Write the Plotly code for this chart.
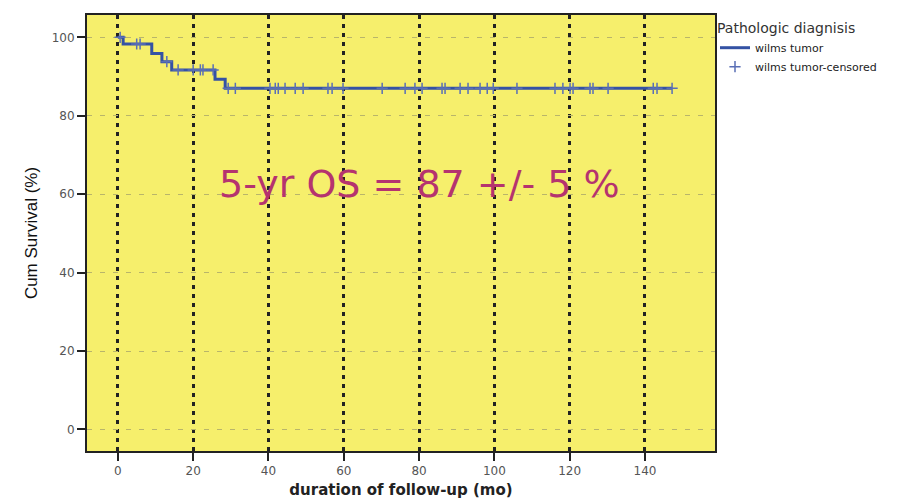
import numpy as np
import plotly.graph_objects as go

# Kaplan-Meier step data (months, cumulative survival %)
step_times = [0, 1.4, 9.0, 11.7, 14.3, 25.8, 28.5, 147.2]
step_surv = [100, 98.3, 95.9, 93.8, 91.7, 89.3, 87.0, 87.0]

# censored observation times (months)
censor_times = [0.6, 5.0, 5.9, 13.0, 16.0, 20.0, 21.9, 22.6, 25.3, 29.3, 31.2,
                 40.4, 41.8, 42.6, 44.4, 47.1, 49.2, 55.8, 56.9, 59.8, 70.2,
                 76.3, 78.9, 80.8, 86.1, 86.9, 90.9, 93.0, 96.2, 98.1, 99.7,
                 106.0, 116.1, 118.2, 120.1, 120.9, 125.4, 126.2, 130.2,
                 142.2, 143.2, 147.2]

x_ticks = [0, 20, 40, 60, 80, 100, 120, 140]
y_ticks = [0, 20, 40, 60, 80, 100]

legend_title = "Pathologic diagnisis"
series_names = ["wilms tumor", "wilms tumor-censored"]
annotation_text = "5-yr OS = 87 +/- 5 %"

# survival value at each censor time from the step function
idx = np.searchsorted(np.array(step_times), np.array(censor_times), side="right") - 1
censor_surv = [step_surv[i] for i in idx]

line_color = "#3452a4"
bg = "#f6ef6c"

fig = go.Figure()
fig.add_trace(go.Scatter(
    x=step_times, y=step_surv, mode="lines", line_shape="hv",
    line=dict(color=line_color, width=3), name=series_names[0]))
fig.add_trace(go.Scatter(
    x=censor_times, y=censor_surv, mode="markers",
    marker=dict(symbol="cross-thin", size=8, line=dict(color="#5a6fb5", width=1.5)),
    name=series_names[1]))

fig.add_annotation(x=80, y=62.7, xref="x", yref="y", text=annotation_text,
                   showarrow=False,
                   font=dict(family="DejaVu Sans", size=38, color="#b5336f"))

# page body has an 8px margin, so the figure is sized/offset to compensate
fig.update_layout(
    width=913, height=491,
    margin=dict(l=79, r=206, t=7, b=48, autoexpand=False),
    paper_bgcolor="white", plot_bgcolor=bg,
    showlegend=True,
    legend=dict(x=1.0, xanchor="left", y=1.0, yanchor="top",
                title=dict(text=legend_title, font=dict(family="DejaVu Sans", size=14, color="#333")),
                font=dict(family="DejaVu Sans", size=11, color="#222"),
                bgcolor="rgba(0,0,0,0)", tracegroupgap=0, itemwidth=30),
    xaxis=dict(range=[-8.2, 158.6], tickvals=x_ticks, ticks="outside", ticklen=8,
               tickwidth=2, tickcolor="#222", automargin=False,
               showgrid=True, gridcolor="#222", gridwidth=3, griddash="4px,5px",
               zeroline=False, showline=True, linecolor="#222", linewidth=2, mirror=True,
               tickfont=dict(family="DejaVu Sans", size=12, color="#555"),
               title=dict(text="<b>duration of follow-up (mo)</b>", standoff=10,
                          font=dict(family="DejaVu Sans", size=15, color="#222"))),
    yaxis=dict(range=[-5.5, 105.7], tickvals=y_ticks, ticks="outside", ticklen=8,
               tickwidth=2, tickcolor="#222", automargin=False,
               showgrid=True, gridcolor="#b9b56a", gridwidth=1, griddash="5px,8px",
               zeroline=False, showline=True, linecolor="#222", linewidth=2, mirror=True,
               tickfont=dict(family="DejaVu Sans", size=12, color="#555"),
               title=dict(text="Cum Survival (%)", standoff=10,
                          font=dict(family="Liberation Sans Narrow, Liberation Sans", size=17, color="#111"))),
)

fig.write_html("out.html")
